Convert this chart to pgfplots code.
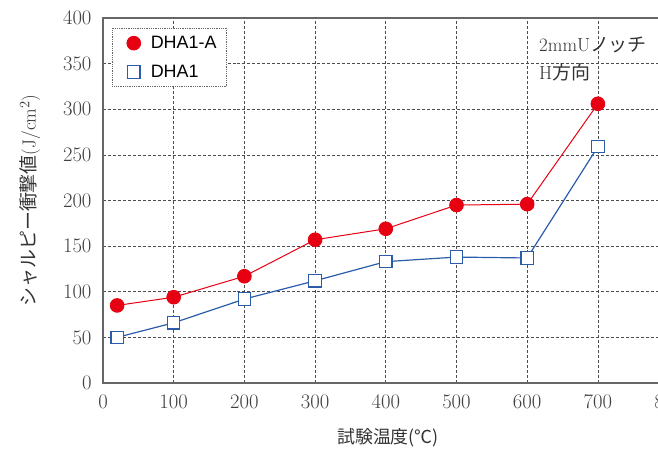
\documentclass[border=0pt]{standalone}
\usepackage{fontspec}
\setsansfont{Liberation Sans}
\newfontfamily\jp{Noto Sans CJK JP}
\usepackage{pgfplots}
\pgfplotsset{compat=1.18}
\definecolor{redA}{HTML}{E60012}
\definecolor{blueA}{HTML}{2A5CAA}
\begin{document}
\begin{tikzpicture}
\begin{axis}[
  at={(0,0)}, anchor=south west,
  scale only axis, width=565.6bp, height=365bp,
  xmin=0, xmax=800, ymin=0, ymax=400,
  xtick={0,100,...,800}, ytick={0,50,...,400},
  grid=major,
  major grid style={densely dashed, color=black!70, line width=0.7pt},
  axis line style={color=black!60, line width=1.2pt},
  major tick length=0pt,
  tick label style={font=\fontsize{20}{20}\selectfont, color=black!75},
  xticklabel style={yshift=-9bp},
  yticklabel style={xshift=-8bp},
  xlabel={\jp 試験温度(℃)},
  ylabel={{\jp シャルピー衝撃値}(J/cm$^2$)},
  every axis x label/.style={at={(axis description cs:0.504,-0.151)}, anchor=center,
    font=\fontsize{18}{18}\selectfont, color=black!80},
  every axis y label/.style={at={(axis description cs:-0.129,0.5)}, rotate=90, anchor=center,
    font=\fontsize{19}{19}\selectfont, color=black!80},
  legend style={at={(axis description cs:0.016,0.973)}, anchor=north west,
    draw=black!60, densely dotted, line width=0.8pt, fill=white,
    font=\fontsize{18}{18}\selectfont\sffamily, row sep=11bp,
    inner xsep=8bp, inner ysep=6bp},
  legend cell align=left,
  legend image code/.code={\path[draw=none] (0cm,0cm) -- (1.0cm,0cm);
    \draw[#1, solid, draw=none] plot[only marks] coordinates {(0.47cm,0cm)};},
]
\addplot[color=redA, line width=1pt, mark=*, mark size=6.8bp,
  mark options={solid, fill=redA, draw=redA}]
  coordinates {(20,85) (100,94) (200,117) (300,157) (400,169) (500,195) (600,196) (700,306)};
\addlegendentry{DHA1-A}
\addplot[color=blueA, line width=1.2pt, mark=square*, mark size=6.2bp,
  mark options={solid, fill=white, draw=blueA, line width=1.2pt}]
  coordinates {(20,50) (100,66) (200,92) (300,112) (400,133) (500,138) (600,137) (700,259)};
\addlegendentry{DHA1}
\node[anchor=west, font=\fontsize{19}{19}\selectfont, color=black!80] at (axis cs:612,370) {2mmU{\jp ノッチ}};
\node[anchor=west, font=\fontsize{19}{19}\selectfont, color=black!80] at (axis cs:612,341) {H{\jp 方向}};
\end{axis}
\pgfresetboundingbox
\useasboundingbox (-103bp,-67bp) rectangle (555bp,383bp);
\end{tikzpicture}
\end{document}
